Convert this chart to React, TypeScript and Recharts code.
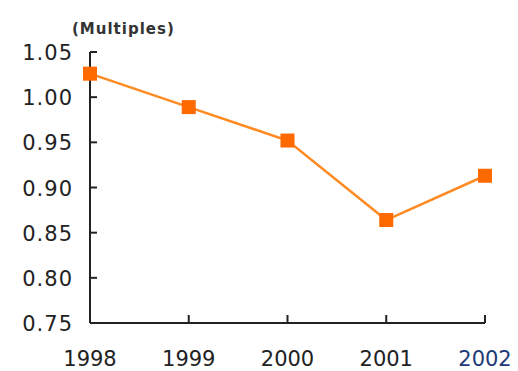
import React from "react";
import { LineChart, Line, XAxis, YAxis, Customized } from "recharts";

const years = ["1998", "1999", "2000", "2001", "2002"];
const multiples = [1.026, 0.989, 0.952, 0.864, 0.913];
const yTicks = [0.75, 0.8, 0.85, 0.9, 0.95, 1.0, 1.05];

const data = years.map((year, i) => ({ year, value: multiples[i] }));

const FONT = "'DejaVu Sans', 'Liberation Sans', sans-serif";
const AXIS = "#222";
const ORANGE = "#ff6a00";

const YTick = (props: any) => {
  const { x, y, payload } = props;
  return (
    <g>
      <line x1={x} y1={y} x2={x + 7} y2={y} stroke={AXIS} strokeWidth={2} />
      <text
        x={x - 17}
        y={y}
        dy={8}
        textAnchor="end"
        fontFamily={FONT}
        fontSize={21}
        letterSpacing={1}
        fill="#222"
      >
        {payload.value.toFixed(2)}
      </text>
    </g>
  );
};

const XTick = (props: any) => {
  const { x, y, payload, index } = props;
  const isLast = index === years.length - 1;
  return (
    <g>
      {index > 0 && (
        <line x1={x} y1={y} x2={x} y2={y - 8} stroke={AXIS} strokeWidth={2} />
      )}
      <text
        x={x}
        y={y + 43}
        textAnchor="middle"
        fontFamily={FONT}
        fontSize={21}
        fill={isLast ? "#1d3b78" : "#222"}
      >
        {payload.value}
      </text>
    </g>
  );
};

const Square = (props: any) => {
  const { cx, cy } = props;
  if (cx == null || cy == null) return null;
  return <rect x={cx - 7} y={cy - 7} width={14} height={14} fill={ORANGE} />;
};

export default function App() {
  return (
    <div style={{ position: "absolute", left: 0, top: 0, background: "#fff" }}>
      <LineChart
        width={518}
        height={371}
        data={data}
        margin={{ top: 52, right: 33, bottom: 18, left: 0 }}
      >
        <XAxis
          dataKey="year"
          height={30}
          axisLine={{ stroke: AXIS, strokeWidth: 2 }}
          tickLine={false}
          tickSize={0}
          tickMargin={0}
          tick={<XTick />}
          interval={0}
        />
        <YAxis
          width={90}
          domain={[0.75, 1.05]}
          ticks={yTicks}
          axisLine={{ stroke: AXIS, strokeWidth: 2 }}
          tickLine={false}
          tickSize={0}
          tickMargin={0}
          tick={<YTick />}
          interval={0}
        />
        <Customized
          component={() => (
            <text
              x={72}
              y={34}
              fontFamily={FONT}
              fontSize={15}
              fontWeight="bold"
              letterSpacing={1}
              fill="#333"
            >
              (Multiples)
            </text>
          )}
        />
        <Line
          dataKey="value"
          stroke="#ff8a22"
          strokeWidth={2.5}
          dot={<Square />}
          activeDot={false}
          isAnimationActive={false}
        />
      </LineChart>
    </div>
  );
}
